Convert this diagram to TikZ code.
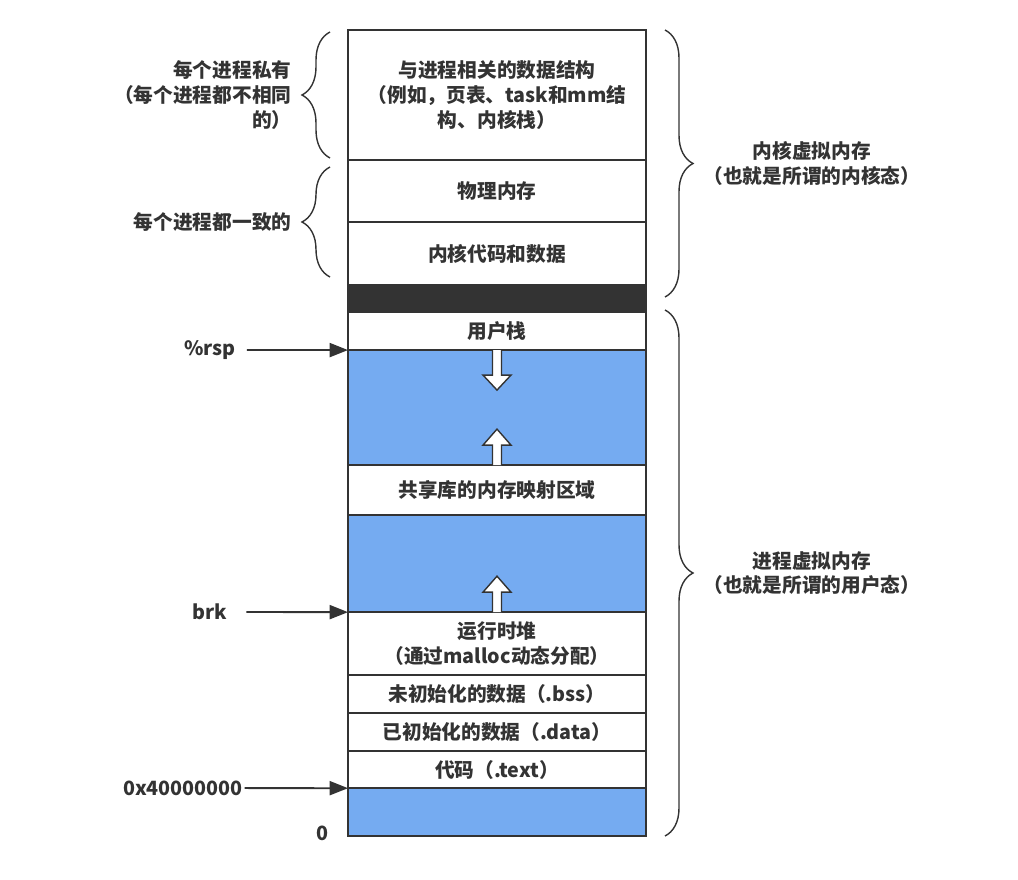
\documentclass[tikz,border=0pt]{standalone}
\usepackage{fontspec}
\setmainfont{Noto Sans CJK SC}
\usetikzlibrary{positioning,arrows.meta,decorations.pathreplacing}
\definecolor{ink}{HTML}{333333}
\definecolor{freeblue}{HTML}{75ABF1}
\tikzset{x=0.025cm,y=-0.025cm,
every node/.style={font=\fontsize{14}{17.5}\selectfont\bfseries,text=ink},
row/.style={rectangle,draw=ink,line width=1.2pt,fill=white,
  minimum width=7.45cm,outer sep=0pt,inner sep=0pt,align=center},
free/.style={row,fill=freeblue},
ptr/.style={-{Triangle[length=13pt,width=10pt]},draw=ink,line width=1.3pt},
brc/.style={draw=ink,line width=1pt,decorate,decoration={brace,amplitude=0.7cm}},
hollow/.style={draw=ink,line width=1pt,fill=white,line join=miter},
growdown/.pic={\draw[hollow] (-4.5,0) -- (-4.5,25) -- (-14,25) -- (0,40) -- (14,25) -- (4.5,25) -- (4.5,0);},
growup/.pic={\draw[hollow] (-4.5,0) -- (-4.5,-20) -- (-14,-20) -- (0,-36) -- (14,-20) -- (4.5,-20) -- (4.5,0);},
}
\begin{document}
\begin{tikzpicture}
\useasboundingbox (0,0) rectangle (1018,880);

% address space, top to bottom
\node[row,minimum height=3.25cm,anchor=north] (ds) at (497,30) {与进程相关的数据结构\\（例如，页表、task和mm结\\构、内核栈）};
\node[row,minimum height=1.55cm,below=0pt of ds] (phys) {物理内存};
\node[row,minimum height=1.575cm,below=0pt of phys] (kcode) {内核代码和数据};
\node[row,fill=ink,minimum height=0.675cm,below=0pt of kcode] (hole) {};
\node[row,minimum height=0.95cm,below=0pt of hole] (ustack) {用户栈};
\node[free,minimum height=2.875cm,below=0pt of ustack] (gap1) {};
\node[row,minimum height=1.25cm,below=0pt of gap1] (shlib) {共享库的内存映射区域};
\node[free,minimum height=2.425cm,below=0pt of shlib] (gap2) {};
\node[row,minimum height=1.575cm,below=0pt of gap2] (heap) {运行时堆\\（通过malloc动态分配）};
\node[row,minimum height=0.95cm,below=0pt of heap] (bss) {未初始化的数据（.bss）};
\node[row,minimum height=0.95cm,below=0pt of bss] (data) {已初始化的数据（.data）};
\node[row,minimum height=0.925cm,below=0pt of data] (code) {代码（.text）};
\node[free,minimum height=1.2cm,below=0pt of code] (gap3) {};

% growth arrows
\pic at (gap1.north) {growdown};
\pic at (gap1.south) {growup};
\pic at (gap2.south) {growup};

% pointers
\node (rsp) at (210,350) {\%rsp};
\node (brk) at (210,612) {brk};
\node[inner sep=1pt] (base) at (183,788) {0x40000000};
\node (zero) at (322,833) {0};
\draw[ptr,shorten <=4.5pt] (rsp) -- (gap1.north west);
\draw[ptr,shorten <=10pt] (brk) -- (heap.north west);
\draw[ptr] (base) -- (gap3.north west);

% braces
\draw[brc] (330,158) -- (330,32)
  node[midway,left=0.83cm,align=right] {每个进程私有\\（每个进程都不相同\\的）};
\draw[brc] (330,277) -- (330,167)
  node[midway,left=0.83cm,align=right] {每个进程都一致的};
\draw[brc] (665,30) -- (665,297)
  node[midway,right=0.83cm,align=center] {内核虚拟内存\\（也就是所谓的内核态）};
\draw[brc] (665,310) -- (665,836)
  node[midway,right=0.83cm,align=center] {进程虚拟内存\\（也就是所谓的用户态）};
\end{tikzpicture}
\end{document}
